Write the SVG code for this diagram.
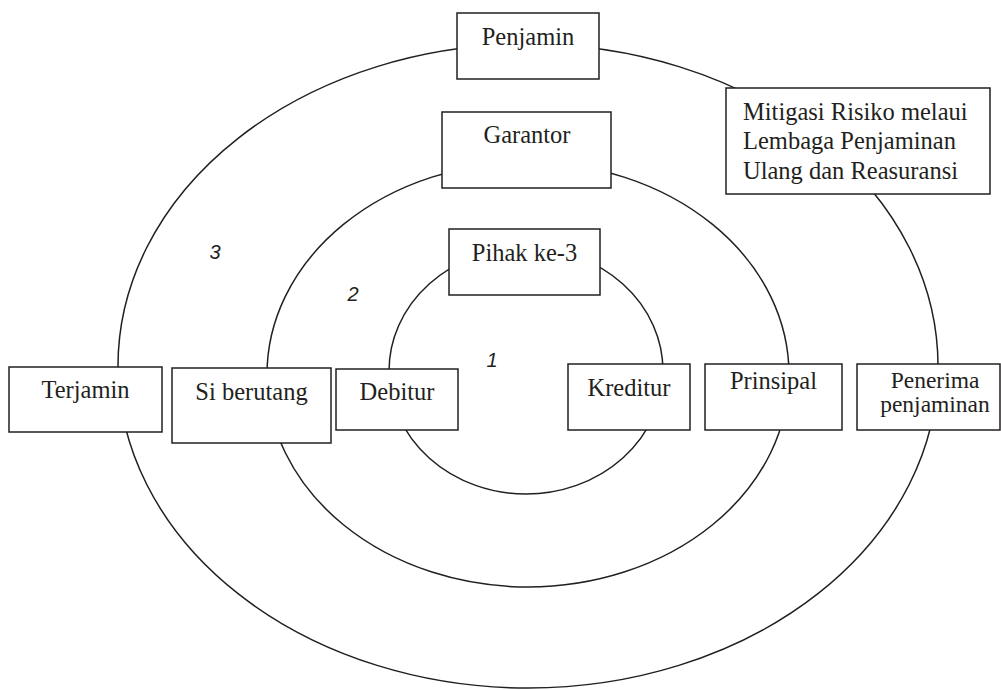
<svg xmlns="http://www.w3.org/2000/svg" width="1001" height="690" viewBox="0 0 1001 690">
<style>
.ring{fill:none;stroke:#231f20;stroke-width:1.5}
.box{fill:#ffffff;stroke:#231f20;stroke-width:1.5}
.t{font-family:"Liberation Serif","Times New Roman",serif;font-size:24.5px;fill:#231f20;text-anchor:middle}
.t2{font-family:"Liberation Serif","Times New Roman",serif;font-size:23.5px;fill:#231f20;text-anchor:middle}
.tl{font-family:"Liberation Serif","Times New Roman",serif;font-size:24.5px;fill:#231f20}
.n{font-family:"Liberation Sans",Arial,sans-serif;font-size:20px;font-style:italic;fill:#231f20;text-anchor:middle}
</style>
<rect width="1001" height="690" fill="#ffffff"/>
<g id="connectors">
<ellipse class="ring" cx="528" cy="366" rx="410" ry="322"/>
<ellipse class="ring" cx="528" cy="374.6" rx="261" ry="212.4"/>
<ellipse class="ring" cx="526" cy="371" rx="137" ry="123"/>
</g>
<g id="labels">
<text class="n" x="215" y="259">3</text>
<text class="n" x="353" y="301">2</text>
<text class="n" x="492" y="367">1</text>
</g>
<g id="penjamin"><rect class="box" x="457" y="13" width="142" height="66"/><text class="t" x="528" y="45">Penjamin</text></g>
<g id="garantor"><rect class="box" x="442" y="112" width="169" height="76"/><text class="t" x="527" y="143">Garantor</text></g>
<g id="mitigasi"><rect class="box" x="726" y="88" width="264" height="106"/>
<text class="tl" x="743" y="120">Mitigasi Risiko melaui</text>
<text class="tl" x="743" y="149">Lembaga Penjaminan</text>
<text class="tl" x="743" y="179">Ulang dan Reasuransi</text></g>
<g id="pihak"><rect class="box" x="449" y="229" width="151" height="66"/><text class="t" x="524.5" y="261">Pihak ke-3</text></g>
<g id="terjamin"><rect class="box" x="9" y="367" width="153" height="65"/><text class="t" x="85.5" y="398">Terjamin</text></g>
<g id="siberutang"><rect class="box" x="172" y="368" width="159" height="75"/><text class="t" x="251.5" y="400">Si berutang</text></g>
<g id="debitur"><rect class="box" x="336" y="369" width="122" height="61"/><text class="t" x="397" y="400">Debitur</text></g>
<g id="kreditur"><rect class="box" x="568" y="364" width="122" height="66"/><text class="t" x="629" y="396">Kreditur</text></g>
<g id="prinsipal"><rect class="box" x="705" y="364" width="137" height="66"/><text class="t" x="773.5" y="389">Prinsipal</text></g>
<g id="penerima"><rect class="box" x="857" y="364" width="143" height="66"/><text class="t2" x="935" y="388">Penerima</text><text class="t2" x="935" y="412">penjaminan</text></g>
</svg>
